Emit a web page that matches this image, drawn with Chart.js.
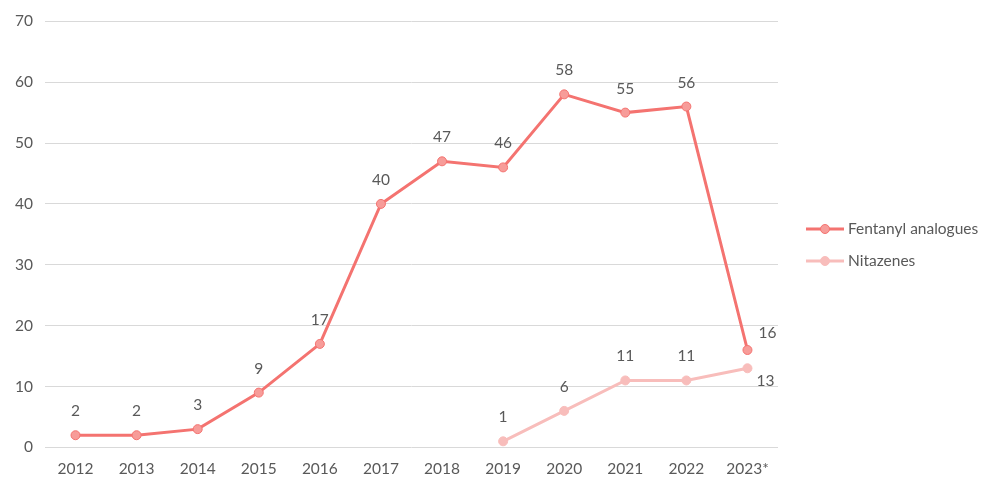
<!DOCTYPE html>
<html lang="en">
<head>
<meta charset="UTF-8">
<title>Fentanyl analogues and nitazenes</title>
<script src="https://cdn.jsdelivr.net/npm/chart.js"></script>
<style>
    body { margin: 0; background: #fff; }
    #wrap { width: 1000px; height: 490px; }
</style>
</head>
<body>
<div id="wrap"><canvas id="chart"></canvas></div>
<script>
    const years = ['2012', '2013', '2014', '2015', '2016', '2017', '2018', '2019', '2020', '2021', '2022', '2023*'];
    const fentanyl = [2, 2, 3, 9, 17, 40, 47, 46, 58, 55, 56, 16];
    const nitazenes = [null, null, null, null, null, null, null, 1, 6, 11, 11, 13];
    const yTicks = [0, 10, 20, 30, 40, 50, 60, 70];

    const FONT = 'Lato, "Open Sans", sans-serif';
    const TEXT = '#595959';
    const SIZE = 15.5;

    // value labels above the points (last ones are shifted like the original)
    const labelPlugin = {
        id: 'labels',
        afterDatasetsDraw(chart) {
            const ctx = chart.ctx;
            ctx.save();
            ctx.font = SIZE + 'px ' + FONT;
            ctx.fillStyle = TEXT;
            ctx.textAlign = 'center';
            ctx.textBaseline = 'middle';
            chart.data.datasets.forEach((ds, i) => {
                const meta = chart.getDatasetMeta(i);
                meta.data.forEach((pt, j) => {
                    const v = ds.data[j];
                    if (v === null) return;
                    const last = j === ds.data.length - 1;
                    let x = pt.x, y = pt.y - 24;
                    if (last && i === 0) { x += 20; y = pt.y - 17; }
                    if (last && i === 1) { x += 18; y = pt.y + 13; }
                    ctx.fillText(String(v), x, y);
                });
            });
            ctx.restore();
        }
    };

    // legend drawn as line + marker like the original
    const legendPlugin = {
        id: 'sideLegend',
        afterDraw(chart) {
            const ctx = chart.ctx;
            ctx.save();
            ctx.font = SIZE + 'px ' + FONT;
            ctx.textBaseline = 'middle';
            const rows = [229, 261];
            chart.data.datasets.forEach((ds, i) => {
                const y = rows[i];
                ctx.strokeStyle = ds.borderColor;
                ctx.lineWidth = 3;
                ctx.beginPath();
                ctx.moveTo(806, y);
                ctx.lineTo(844, y);
                ctx.stroke();
                ctx.beginPath();
                ctx.arc(825, y, 4.5, 0, Math.PI * 2);
                ctx.fillStyle = ds.pointBackgroundColor;
                ctx.fill();
                ctx.lineWidth = 1;
                ctx.strokeStyle = ds.pointBorderColor;
                ctx.stroke();
                ctx.fillStyle = TEXT;
                ctx.fillText(ds.label, 848, y);
            });
            ctx.restore();
        }
    };

    new Chart(document.getElementById('chart'), {
        type: 'line',
        data: {
            labels: years,
            datasets: [
                {
                    label: 'Fentanyl analogues',
                    data: fentanyl,
                    borderColor: '#F47370',
                    borderWidth: 3,
                    pointRadius: 4.5,
                    pointBackgroundColor: '#F79C99',
                    pointBorderColor: '#F47370',
                    pointBorderWidth: 1,
                    tension: 0
                },
                {
                    label: 'Nitazenes',
                    data: nitazenes,
                    borderColor: '#F8BDBB',
                    borderWidth: 3,
                    pointRadius: 4.5,
                    pointBackgroundColor: '#F8BDBB',
                    pointBorderColor: '#F8BDBB',
                    pointBorderWidth: 1,
                    tension: 0
                }
            ]
        },
        options: {
            responsive: true,
            maintainAspectRatio: false,
            animation: false,
            layout: { padding: { left: 3, right: 222, top: 13, bottom: 8 } },
            plugins: {
                legend: { display: false },
                tooltip: { enabled: false }
            },
            scales: {
                x: {
                    offset: true,
                    grid: { display: false },
                    border: { display: false },
                    ticks: { color: TEXT, font: { family: FONT, size: SIZE }, padding: 4 }
                },
                y: {
                    min: 0,
                    max: 70,
                    afterBuildTicks(axis) { axis.ticks = yTicks.map(v => ({ value: v })); },
                    grid: { color: '#D9D9D9', drawTicks: false },
                    border: { display: false },
                    ticks: { color: TEXT, font: { family: FONT, size: SIZE }, padding: 12 }
                }
            }
        },
        plugins: [labelPlugin, legendPlugin]
    });
</script>
</body>
</html>
